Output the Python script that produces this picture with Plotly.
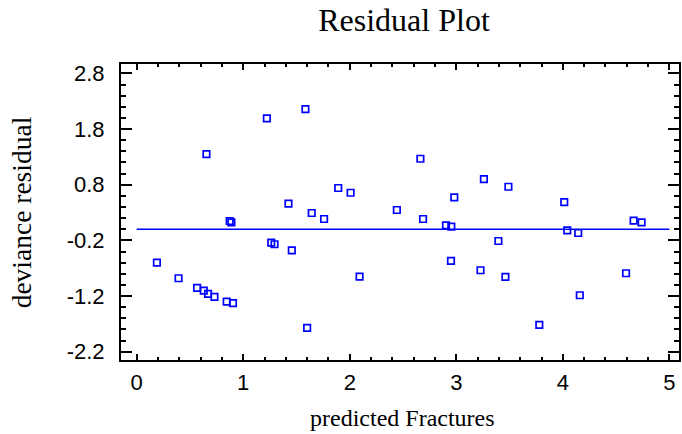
import plotly.graph_objects as go

# Data
predicted = [0.190, 0.393, 0.567, 0.630, 0.655, 0.670, 0.730, 0.845, 0.873, 0.889,
             0.904, 1.222, 1.263, 1.294, 1.425, 1.456, 1.584, 1.600, 1.643, 1.759,
             1.892, 2.008, 2.092, 2.442, 2.663, 2.688, 2.903, 2.950, 2.953, 2.981,
             3.227, 3.259, 3.395, 3.461, 3.489, 3.779, 4.013, 4.041, 4.144, 4.159,
             4.593, 4.664, 4.739]
residual = [-0.600, -0.881, -1.055, -1.103, 1.351, -1.162, -1.216, -1.300, 0.148, 0.125,
            -1.329, 1.992, -0.241, -0.270, 0.459, -0.378, 2.159, -1.773, 0.292, 0.184,
            0.741, 0.656, -0.852, 0.346, 1.267, 0.184, 0.071, -0.570, 0.046, 0.574,
            -0.737, 0.902, -0.211, -0.857, 0.764, -1.719, 0.489, -0.019, -0.067, -1.186,
            -0.791, 0.154, 0.125]
zero_line_x = [0, 5]
zero_line_y = [0, 0]

x_tick_vals = [0, 1, 2, 3, 4, 5]
x_tick_text = ["0", "1", "2", "3", "4", "5"]
y_tick_vals = [2.8, 1.8, 0.8, -0.2, -1.2, -2.2]
y_tick_text = ["2.8", "1.8", "0.8", "-0.2", "-1.2", "-2.2"]

BLUE = "#0000FF"
SERIF = "Liberation Serif, Times New Roman, serif"
SANS = "Liberation Sans, Arial, sans-serif"

fig = go.Figure()
fig.add_trace(go.Scatter(x=zero_line_x, y=zero_line_y, mode="lines",
                         line=dict(color=BLUE, width=1.3), hoverinfo="skip"))
fig.add_trace(go.Scatter(x=predicted, y=residual, mode="markers",
                         marker=dict(symbol="square-open", size=6.5, color=BLUE,
                                     line=dict(color=BLUE, width=1.7))))

fig.update_layout(
    width=682, height=434,
    margin=dict(l=121, r=1, t=64, b=74),
    paper_bgcolor="white", plot_bgcolor="white",
    showlegend=False,
    title=dict(text="Residual Plot", x=(404 / 682), xanchor="center",
               y=1 - 20 / 434, yanchor="middle", yref="container",
               font=dict(family=SERIF, size=32, color="black")),
    xaxis=dict(range=[-0.147, 5.09], tickvals=x_tick_vals, ticktext=x_tick_text,
               ticks="inside", ticklen=6, tickwidth=1.5, tickcolor="black",
               minor=dict(ticks="inside", dtick=0.2, tick0=0, ticklen=3,
                          tickwidth=1.5, tickcolor="black"),
               showline=True, linecolor="black", linewidth=2, mirror="allticks",
               showgrid=False, zeroline=False, ticklabelstandoff=2,
               tickfont=dict(family=SANS, size=22, color="black")),
    yaxis=dict(range=[-2.35, 2.97], tickvals=y_tick_vals, ticktext=y_tick_text,
               ticks="inside", ticklen=11, tickwidth=1.5, tickcolor="black",
               minor=dict(ticks="inside", dtick=0.2, tick0=-0.2, ticklen=5,
                          tickwidth=1.5, tickcolor="black"),
               showline=True, linecolor="black", linewidth=2, mirror="allticks",
               showgrid=False, zeroline=False, ticklabelstandoff=10,
               tickfont=dict(family=SANS, size=22, color="black")),
    annotations=[
        dict(text="predicted Fractures", xref="paper", yref="paper",
             x=(404 - 121) / 560, y=(360 - 418) / 296, xanchor="center", yanchor="middle",
             showarrow=False, font=dict(family=SERIF, size=24, color="black")),
        dict(text="deviance residual", xref="paper", yref="paper",
             x=(21 - 121) / 560, y=0.5, xanchor="center", yanchor="middle",
             textangle=-90, showarrow=False,
             font=dict(family=SERIF, size=27.5, color="black")),
    ],
)

fig.write_html("out.html", config={"displayModeBar": False},
               post_script="document.body.style.margin='0';document.body.style.padding='0';")
